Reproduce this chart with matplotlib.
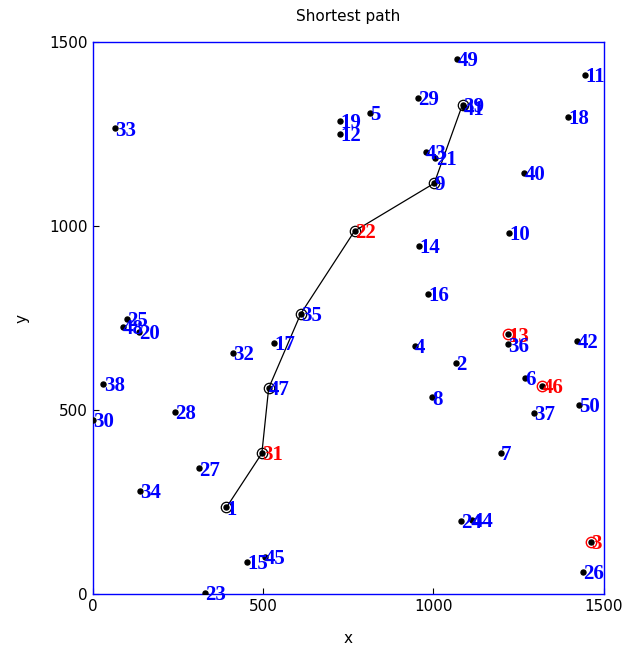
import matplotlib
matplotlib.use("Agg")
import matplotlib.pyplot as plt

# node ids and coordinates
node_ids = list(range(1, 51))
xs = [393, 1066, 1462, 946, 815, 1268, 1198, 996, 1003, 1222,
      1445, 727, 1220, 957, 454, 986, 532, 1396, 727, 137,
      1006, 769, 329, 1081, 100, 1439, 312, 242, 954, 1,
      497, 412, 66, 139, 611, 1220, 1296, 32, 1086, 1266,
      1089, 1422, 978, 1115, 505, 1320, 517, 88, 1071, 1427]
ys = [236, 628, 143, 675, 1307, 589, 383, 535, 1117, 981,
      1412, 1250, 706, 947, 89, 816, 684, 1298, 1286, 714,
      1185, 987, 4, 199, 747, 61, 342, 496, 1350, 474,
      383, 655, 1266, 282, 762, 679, 492, 571, 1331, 1144,
      1323, 688, 1201, 202, 102, 566, 560, 727, 1455, 514]

path_nodes = [1, 31, 47, 35, 22, 9, 39]
red_label_nodes = [31, 22, 13, 46, 3]
red_circle_nodes = [13, 46, 3]

fig = plt.figure(figsize=(6.32, 6.51), dpi=100)
ax = fig.add_axes([0.1464, 0.0871, 0.8086, 0.8479])

# path
px = [xs[n - 1] for n in path_nodes]
py = [ys[n - 1] for n in path_nodes]
ax.plot(px, py, color="black", lw=0.9, zorder=2)
ax.plot(px, py, linestyle="none", marker="o", ms=7.5, mfc="none",
        mec="black", mew=0.9, zorder=3)

rx = [xs[n - 1] for n in red_circle_nodes]
ry = [ys[n - 1] for n in red_circle_nodes]
ax.plot(rx, ry, linestyle="none", marker="o", ms=7.5, mfc="none",
        mec="red", mew=1.0, zorder=3)

# all nodes
ax.plot(xs, ys, linestyle="none", marker="o", ms=3.6, color="black", zorder=4)

for n, x, y in zip(node_ids, xs, ys):
    col = "red" if n in red_label_nodes else "blue"
    ax.annotate(str(n), (x, y), xytext=(0.3, -1.5), textcoords="offset points",
                ha="left", va="center", color=col, fontsize=15,
                family="Liberation Serif", fontweight="bold", zorder=5)

ax.set_xlim(0, 1500)
ax.set_ylim(0, 1500)
ax.set_xticks([0, 500, 1000, 1500])
ax.set_yticks([0, 500, 1000, 1500])
ax.tick_params(direction="in", length=4, width=0.8, colors="black",
               labelsize=11, top=False, right=False)
for sp in ax.spines.values():
    sp.set_color("blue")
    sp.set_linewidth(1.0)

ax.set_title("Shortest path", fontsize=11, pad=15)
ax.set_xlabel("x", fontsize=11, labelpad=12)
ax.set_ylabel("y", fontsize=11, labelpad=14)

fig.savefig("out.png", dpi=100)
